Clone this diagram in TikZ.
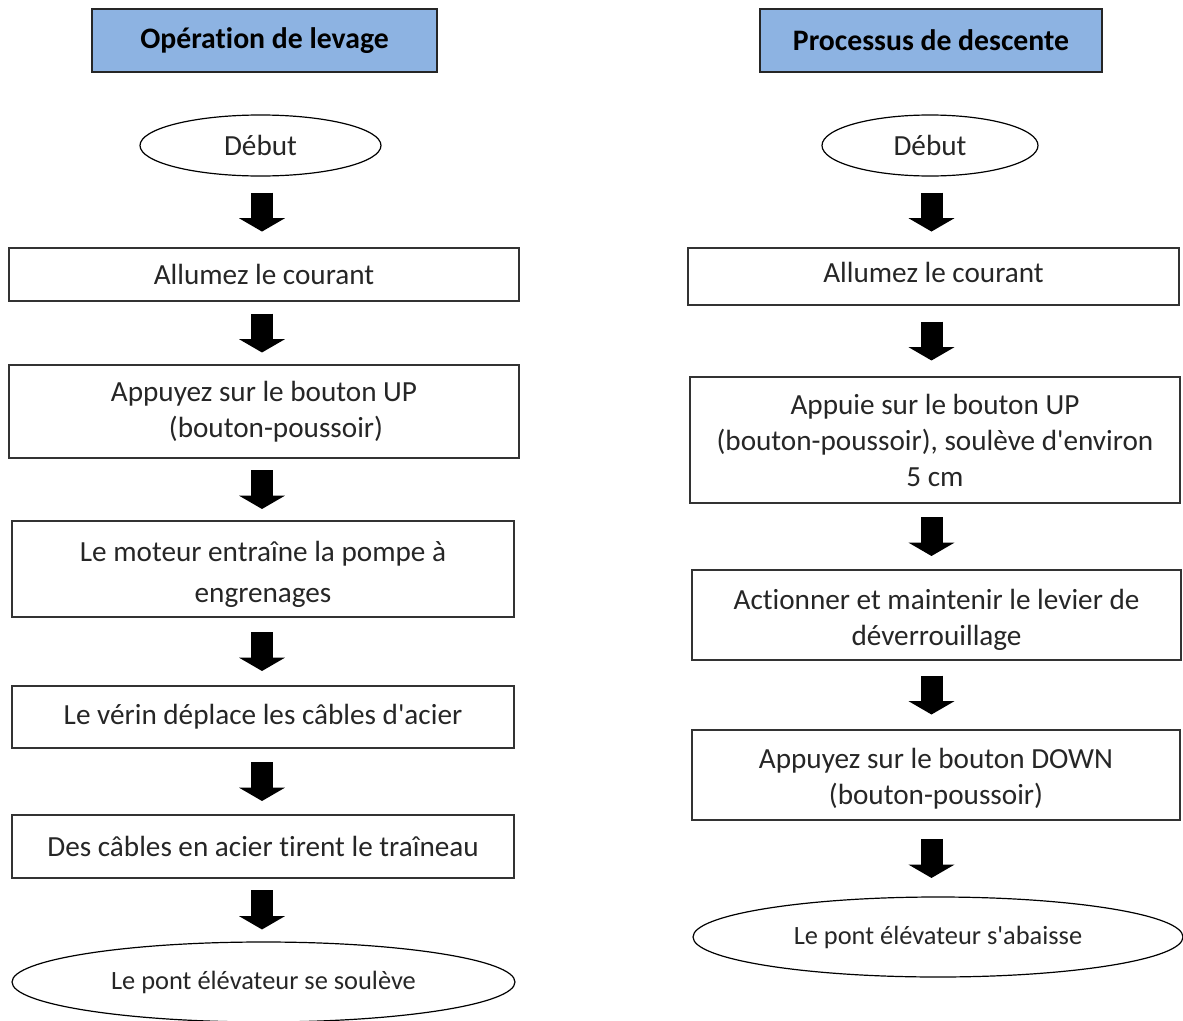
\documentclass[tikz,border=0pt]{standalone}
\usepackage{fontspec}
\setmainfont{Carlito}[Ligatures={TeX,NoCommon}]
\usetikzlibrary{arrows.meta,calc,shapes.geometric}
\definecolor{hblue}{HTML}{8DB3E2}
\newcommand{\apos}{\textquotesingle}
\begin{document}
\begin{tikzpicture}[x=0.75pt,y=-0.75pt,
  every node/.style={inner sep=0pt, font=\fontsize{21.9}{27}\selectfont, text=black!85},
  hdr/.style={draw=black!85, line width=1.5pt, fill=hblue, text=black, font=\fontsize{22.3}{27}\selectfont\bfseries},
  box/.style={draw=black!80, line width=0.8pt, align=center},
  oval/.style={ellipse, draw=black, line width=0.9pt, align=center},
  blk/.style={black, line width=16.5pt, -{Triangle[width=34pt,length=10pt]}}
]
\useasboundingbox (0,0) rectangle (1183,1021);
% headers
\node[hdr, minimum width=258.75pt, minimum height=47.25pt] (HL) at (264.5,40.5) {Opération de levage};
\node[hdr, minimum width=256.5pt, minimum height=47.25pt] (HR) at (931,40.5) {Processus de descente};
% left column
\node[oval, minimum width=180.75pt, minimum height=45.75pt] (DL) at (260.5,145.5) {Début};
\node[box, minimum width=382.5pt, minimum height=39.75pt] (L1) at (264,274.5) {Allumez le courant};
\node[box, minimum width=382.5pt, minimum height=69.75pt] (L2) at (264,411.5) {Appuyez sur le bouton UP\\ \hspace*{18pt}(bouton-poussoir)};
\node[box, minimum width=376.5pt, minimum height=72pt, font=\fontsize{21.9}{30.75}\selectfont] (L3) at (263,569) {\rule{0pt}{23pt}Le moteur entraîne la pompe à\\ engrenages};
\node[box, minimum width=376.5pt, minimum height=46.5pt] (L4) at (263,717) {Le vérin déplace les câbles d\apos acier};
\node[box, minimum width=376.5pt, minimum height=47.25pt] (L5) at (263,846.5) {Des câbles en acier tirent le traîneau};
\node[oval, minimum width=377.25pt, minimum height=60pt, font=\fontsize{19.8}{24}\selectfont] (LE) at (263.5,982) {Le pont élévateur se soulève};
% right column
\node[oval, minimum width=162pt, minimum height=45.75pt] (DR) at (930,145.5) {Début};
\node[box, minimum width=368.25pt, minimum height=42.75pt] (R1) at (933.5,276.5) {\raisebox{6.5pt}{Allumez le courant}};
\node[box, minimum width=367.5pt, minimum height=94.5pt] (R2) at (935,440) {Appuie sur le bouton UP\\ (bouton-poussoir), soulève d\apos environ\\ 5 cm};
\node[box, minimum width=366.75pt, minimum height=67.5pt] (R3) at (936.5,615) {\rule{0pt}{22pt}Actionner et maintenir le levier de\\ déverrouillage};
\node[box, minimum width=366pt, minimum height=67.5pt] (R4) at (936,775) {\rule{0pt}{21pt}Appuyez sur le bouton DOWN\\ (bouton-poussoir)};
\node[oval, minimum width=367.5pt, minimum height=60pt, font=\fontsize{19.8}{24}\selectfont] (RE) at (938,937) {Le pont élévateur s\apos abaisse};
% arrows
\coordinate (axL) at (262,0);
\coordinate (axR) at (931.5,0);
\foreach \a/\b in {DL/L1, L1/L2, L2/L3, L3/L4, L4/L5, L5/LE}
  \draw[blk] ($(axL |- \a.south)!0.5!(axL |- \b.north)+(0,-19.5)$) -- ++(0,39);
\foreach \a/\b in {DR/R1, R1/R2, R2/R3, R3/R4, R4/RE}
  \draw[blk] ($(axR |- \a.south)!0.5!(axR |- \b.north)+(0,-19.5)$) -- ++(0,39);
\end{tikzpicture}
\end{document}
